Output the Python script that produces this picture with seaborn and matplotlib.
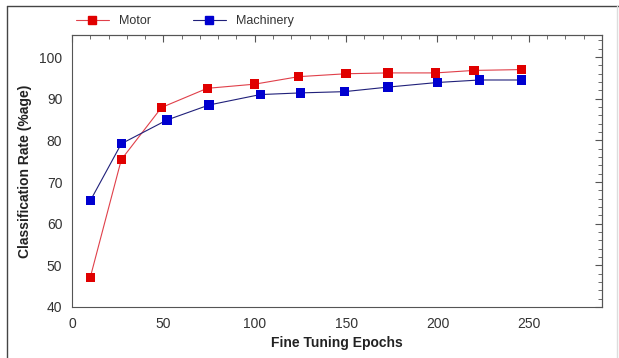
import numpy as np
import pandas as pd
import matplotlib
matplotlib.use("Agg")
import matplotlib.pyplot as plt
import seaborn as sns
from matplotlib.lines import Line2D
from matplotlib.ticker import MultipleLocator

motor_epochs = [10, 27, 49, 74, 100, 124, 150, 173, 199, 220, 246]
motor_rate = [47.1, 75.4, 87.9, 92.5, 93.5, 95.3, 96.0, 96.2, 96.2, 96.8, 97.0]
machinery_epochs = [10, 27, 52, 75, 103, 125, 149, 173, 200, 223, 246]
machinery_rate = [65.5, 79.2, 84.9, 88.5, 91.0, 91.4, 91.7, 92.8, 93.9, 94.5, 94.5]

df = pd.concat([
    pd.DataFrame({"epochs": motor_epochs, "rate": motor_rate, "series": "Motor"}),
    pd.DataFrame({"epochs": machinery_epochs, "rate": machinery_rate, "series": "Machinery"}),
])

line_colors = {"Motor": "#e0404a", "Machinery": "#20207a"}
marker_colors = {"Motor": "#e00000", "Machinery": "#0000d0"}

sns.set_style("white")
plt.rcParams["font.family"] = ["Liberation Sans", "DejaVu Sans"]

fig = plt.figure(figsize=(6.19, 3.58), dpi=100)
ax = fig.add_axes([0.1163, 0.1425, 0.8562, 0.7597])

sns.lineplot(data=df, x="epochs", y="rate", hue="series", palette=line_colors,
             sort=False, linewidth=0.8, legend=False, ax=ax)
sns.scatterplot(data=df, x="epochs", y="rate", hue="series", palette=marker_colors,
                marker="s", s=46, edgecolor="none", legend=False, ax=ax, zorder=3)

ax.set_xlim(0, 290)
ax.set_ylim(40, 105.3)
ax.set_yticks(np.arange(40, 101, 10))
ax.set_xticks(np.arange(0, 251, 50))
ax.xaxis.set_minor_locator(MultipleLocator(10))
ax.yaxis.set_minor_locator(MultipleLocator(2))
ax.tick_params(which="major", direction="inout", length=7, width=0.8, color="#333333",
               labelsize=10, labelcolor="#333333")
ax.tick_params(which="minor", direction="inout", length=4, width=0.6, color="#333333")
for s in ax.spines.values():
    s.set_color("#555555")
    s.set_linewidth(0.8)

# inward ticks on top and right
top = ax.secondary_xaxis("top")
top.set_xticks(np.arange(0, 251, 50))
top.xaxis.set_minor_locator(MultipleLocator(10))
top.tick_params(which="major", direction="in", length=5, width=0.8, color="#555555", labeltop=False)
top.tick_params(which="minor", direction="in", length=3, width=0.6, color="#555555")
right = ax.secondary_yaxis("right")
right.set_yticks(np.arange(40, 101, 10))
right.yaxis.set_minor_locator(MultipleLocator(2))
right.tick_params(which="major", direction="in", length=5, width=0.8, color="#555555", labelright=False)
right.tick_params(which="minor", direction="in", length=3, width=0.6, color="#555555")
for sec in (top, right):
    for s in sec.spines.values():
        s.set_color("#555555")
        s.set_linewidth(0.8)

ax.set_xlabel("Fine Tuning Epochs", fontsize=10, fontweight="bold", color="#222222", labelpad=4)
ax.set_ylabel("Classification Rate (%age)", fontsize=10, fontweight="bold", color="#222222", labelpad=5)

handles = [
    Line2D([], [], color=line_colors[k], lw=0.8, marker="s", markersize=6,
           markerfacecolor=marker_colors[k], markeredgecolor=marker_colors[k])
    for k in ["Motor", "Machinery"]
]
fig.legend(handles, ["Motor", "Machinery"], loc="center left", bbox_to_anchor=(0.105, 0.94),
           ncol=2, frameon=False, fontsize=9, handlelength=2.6, columnspacing=3.4,
           labelcolor="#333333")

# outer frame of the picture
fig.add_artist(Line2D([0.011, 0.011], [0.0, 0.983], transform=fig.transFigure, color="#444444", lw=1))
fig.add_artist(Line2D([0.011, 1.0], [0.983, 0.983], transform=fig.transFigure, color="#444444", lw=1))
fig.add_artist(Line2D([0.997, 0.997], [0.0, 0.983], transform=fig.transFigure, color="#dddddd", lw=1))

fig.savefig("out.png", dpi=100)
